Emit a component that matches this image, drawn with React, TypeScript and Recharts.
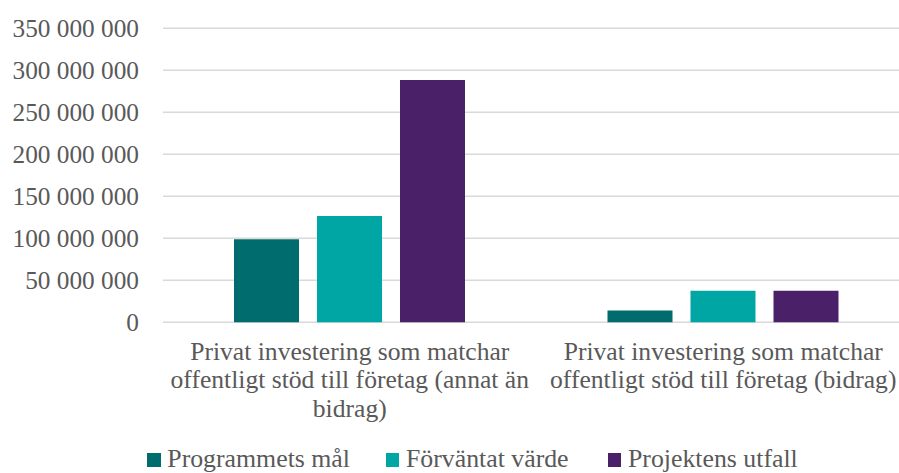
import React from "react";
import { BarChart, Bar, XAxis, YAxis, CartesianGrid, Legend } from "recharts";

const categories = [
  "Privat investering som matchar offentligt stöd till företag (annat än bidrag)",
  "Privat investering som matchar offentligt stöd till företag (bidrag)",
];
const categoryLines = [
  ["Privat investering som matchar", "offentligt stöd till företag (annat än", "bidrag)"],
  ["Privat investering som matchar", "offentligt stöd till företag (bidrag)"],
];
const seriesNames = ["Programmets mål", "Förväntat värde", "Projektens utfall"];
const programmetsMal = [99000000, 14000000];
const forvantatVarde = [126500000, 37500000];
const projektensUtfall = [288500000, 37500000];
const yTicks = [0, 50000000, 100000000, 150000000, 200000000, 250000000, 300000000, 350000000];
const colors = ["#016C6E", "#00A6A4", "#4A2068"];

const FONT = "'Liberation Serif', serif";
const TEXT = "#595959";

const data = categories.map((name, i) => ({
  name,
  mal: programmetsMal[i],
  varde: forvantatVarde[i],
  utfall: projektensUtfall[i],
}));

const fmt = (v: number) => String(v).replace(/\B(?=(\d{3})+(?!\d))/g, " ");

const CatTick = (props: any) => {
  const { x, y, payload } = props;
  const idx = categories.indexOf(payload.value);
  const lines = idx >= 0 ? categoryLines[idx] : [String(payload.value)];
  return (
    <g transform={`translate(${x},${y})`}>
      {lines.map((l: string, i: number) => (
        <text
          key={i}
          x={0}
          y={37.7 + i * 28.4}
          textAnchor="middle"
          fill={TEXT}
          fontFamily={FONT}
          fontSize={25.6}
        >
          {l}
        </text>
      ))}
    </g>
  );
};

const itemWidths = [238.7, 222, 200];

const LegendContent = () => (
  <div
    style={{
      display: "flex",
      alignItems: "flex-start",
      fontFamily: FONT,
      fontSize: 25.8,
      lineHeight: "30px",
      color: TEXT,
      whiteSpace: "nowrap",
    }}
  >
    {seriesNames.map((n, i) => (
      <div key={n} style={{ display: "flex", alignItems: "flex-start", width: itemWidths[i] }}>
        <span
          style={{
            display: "inline-block",
            width: 13.4,
            height: 14,
            background: colors[i],
            marginTop: 9.4,
            marginRight: 6.6,
          }}
        />
        <span>{n}</span>
      </div>
    ))}
  </div>
);

export default function App() {
  return (
    <div
      style={{
        position: "absolute",
        left: 0,
        top: 0,
        width: 899,
        height: 473,
        overflow: "hidden",
        background: "#fff",
      }}
    >
      <BarChart
        width={920}
        height={473}
        data={data}
        margin={{ top: 28.3, right: 10, left: 0, bottom: 10.7 }}
        barSize={65}
        barGap={18}
      >
        <CartesianGrid vertical={false} stroke="#d9d9d9" strokeWidth={1.5} />
        <XAxis
          dataKey="name"
          axisLine={false}
          tickLine={false}
          tickSize={0}
          tickMargin={0}
          height={100}
          interval={0}
          tick={<CatTick />}
        />
        <YAxis
          width={163}
          domain={[0, 350000000]}
          ticks={yTicks}
          axisLine={false}
          tickLine={false}
          tickSize={0}
          tickMargin={24}
          tickFormatter={fmt}
          tick={{ fill: TEXT, fontSize: 25.3, fontFamily: FONT }}
          interval={0}
        />
        <Legend
          verticalAlign="bottom"
          content={<LegendContent />}
          wrapperStyle={{ position: "absolute", top: 444, left: 147.3, width: 750, height: 40, margin: 0, padding: 0 }}
        />
        <Bar dataKey="mal" name={seriesNames[0]} fill={colors[0]} isAnimationActive={false} />
        <Bar dataKey="varde" name={seriesNames[1]} fill={colors[1]} isAnimationActive={false} />
        <Bar dataKey="utfall" name={seriesNames[2]} fill={colors[2]} isAnimationActive={false} />
      </BarChart>
    </div>
  );
}
